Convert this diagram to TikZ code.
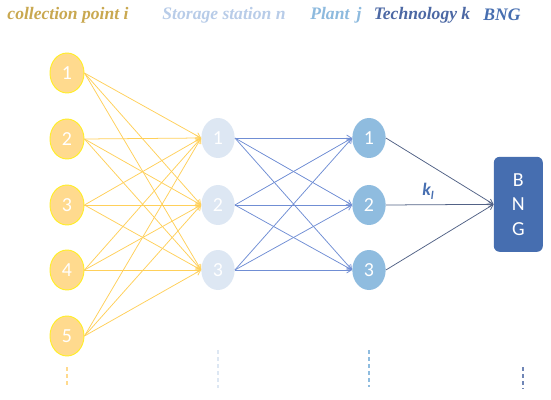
\documentclass[tikz,border=0pt]{standalone}
\usepackage{fontspec}
\setmainfont{Liberation Serif}
\newfontfamily\numfont{Carlito}
\usetikzlibrary{arrows.meta,positioning,shapes.geometric,calc}
\definecolor{GoldTitle}{RGB}{201,168,80}
\definecolor{SoftBlue}{RGB}{184,204,232}
\definecolor{MidBlue}{RGB}{141,186,222}
\definecolor{TechBlue}{RGB}{76,104,164}
\definecolor{DeepBlue}{RGB}{70,110,176}
\definecolor{PointFill}{RGB}{255,218,142}
\definecolor{PointEdge}{RGB}{255,238,40}
\definecolor{StoreFill}{RGB}{221,231,243}
\definecolor{PlantFill}{RGB}{143,188,223}
\definecolor{YellowLink}{RGB}{255,208,90}
\definecolor{BlueLink}{RGB}{112,142,212}
\definecolor{GreyLink}{RGB}{82,98,134}
\tikzset{
  title/.style={font=\fontsize{15}{17}\selectfont\bfseries\itshape,anchor=center},
  point/.style={ellipse,draw=PointEdge,fill=PointFill,line width=0.8pt,
    minimum width=1.02cm,minimum height=1.2cm,inner sep=0pt,
    text=white,font=\numfont\fontsize{17}{19}\selectfont},
  store/.style={ellipse,fill=StoreFill,minimum width=1.0cm,
    minimum height=1.2cm,inner sep=0pt,text=white,
    font=\numfont\fontsize{17}{19}\selectfont},
  plant/.style={ellipse,fill=PlantFill,minimum width=1.0cm,
    minimum height=1.2cm,inner sep=0pt,text=white,
    font=\numfont\fontsize{17}{19}\selectfont},
  link/.style={-{Straight Barb[length=4pt,width=5pt]},line width=0.65pt}
}

\begin{document}
\begin{tikzpicture}[
  guide/.style={line width=1.2pt,dash pattern=on 3pt off 3pt},
  bngbox/.style={
    rounded corners=5pt,
    fill=DeepBlue,
    minimum width=1.47cm,
    minimum height=2.85cm,
    align=center,
    text=white,
    font=\numfont\fontsize{17}{21}\selectfont
  }
]
\useasboundingbox (0,0) rectangle (16.53,11.97);

% Column titles
\node[title,text=GoldTitle] (t1) at (2.04,11.52) {collection point i};
\node[title,text=SoftBlue] (t2) at (6.72,11.52) {Storage station n};
\node[title,text=MidBlue] (t3) at (10.08,11.52) {Plant\, j};
\node[title,text=TechBlue] (t4) at (12.66,11.52) {Technology k};
\node[title,text=DeepBlue] (t5) at (15.06,11.52) {BNG};

% Collection points
\node[point] (c1) at (2.01,9.78) {1};
\node[point] (c2) at (2.01,7.80) {2};
\node[point] (c3) at (2.01,5.82) {3};
\node[point] (c4) at (2.01,3.87) {4};
\node[point] (c5) at (2.01,1.89) {5};

% Storage stations
\node[store] (s1) at (6.54,7.83) {1};
\node[store] (s2) at (6.54,5.82) {2};
\node[store] (s3) at (6.54,3.87) {3};

% Plants
\node[plant] (p1) at (11.07,7.83) {1};
\node[plant] (p2) at (11.07,5.82) {2};
\node[plant] (p3) at (11.07,3.87) {3};

% BNG
\node[bngbox] (bng) at (15.55,5.84) {B\\N\\G};

% Links
\foreach \i in {1,...,5}
  \foreach \n in {1,2,3}
    \draw[link,YellowLink] (c\i.east) -- (s\n.west);
\foreach \n in {1,2,3}
  \foreach \j in {1,2,3}
    \draw[link,BlueLink] (s\n.east) -- (p\j.west);
\foreach \j in {1,2,3}
  \draw[link,GreyLink] (p\j.east) -- (bng.west);

\node[text=DeepBlue,font=\numfont\fontsize{15}{17}\selectfont\bfseries\itshape]
  (kl) at (12.84,6.24) {k\raisebox{-0.45ex}{\fontsize{10}{12}\selectfont l}};

% Dashed marks below the columns
\draw[guide,PointFill] (2.01,0.96) -- (2.01,0.33);
\draw[guide,StoreFill] (6.54,1.47) -- (6.54,0.33);
\draw[guide,PlantFill] (11.07,1.47) -- (11.07,0.36);
\draw[guide,TechBlue!80] (15.69,0.96) -- (15.69,0.30);

\end{tikzpicture}
\end{document}
